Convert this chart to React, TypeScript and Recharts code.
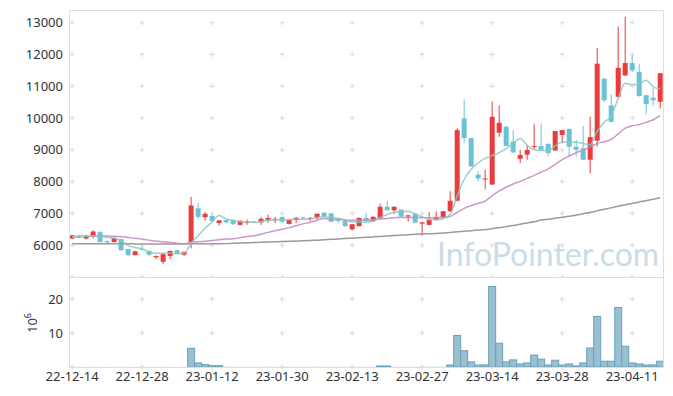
import React from 'react';
import { ComposedChart, Bar, Line, XAxis, YAxis, CartesianGrid } from 'recharts';

const dates = ['22-12-14','22-12-15','22-12-16','22-12-19','22-12-20','22-12-21','22-12-22','22-12-23','22-12-26','22-12-27','22-12-28','22-12-29','23-01-02','23-01-03','23-01-04','23-01-05','23-01-06','23-01-09','23-01-10','23-01-11','23-01-12','23-01-13','23-01-16','23-01-17','23-01-18','23-01-19','23-01-20','23-01-25','23-01-26','23-01-27','23-01-30','23-01-31','23-02-01','23-02-02','23-02-03','23-02-06','23-02-07','23-02-08','23-02-09','23-02-10','23-02-13','23-02-14','23-02-15','23-02-16','23-02-17','23-02-20','23-02-21','23-02-22','23-02-23','23-02-24','23-02-27','23-02-28','23-03-02','23-03-03','23-03-06','23-03-07','23-03-08','23-03-09','23-03-10','23-03-13','23-03-14','23-03-15','23-03-16','23-03-17','23-03-20','23-03-21','23-03-22','23-03-23','23-03-24','23-03-27','23-03-28','23-03-29','23-03-30','23-03-31','23-04-03','23-04-04','23-04-05','23-04-06','23-04-07','23-04-10','23-04-11','23-04-12','23-04-13','23-04-14','23-04-17'];

const opens = [6210,6250,6210,6260,6410,6130,6100,6190,5880,5690,
 5890,5820,5620,5480,5660,5840,5700,6100,7160,6880,
 6920,6700,6790,6790,6640,6700,6740,6720,6790,6820,
 6890,6670,6790,6880,6850,6850,7020,7000,6810,6760,
 6500,6600,6860,6760,6840,7210,7100,7120,6900,7000,
 6680,6640,6790,6880,7070,7400,9990,9370,8220,8080,
 7910,9540,9730,9260,8720,8850,9100,9120,9190,8980,
 9470,9660,9100,9050,8690,9290,11240,10400,10670,11340,
 11730,11450,10720,10640,10510];
const highs = [6330,6320,6330,6470,6440,6150,6230,6200,5890,5820,
 5960,5830,5680,5720,5830,5860,5800,7520,7330,7040,
 6950,6790,6820,6800,6780,6810,6760,6890,6960,6890,
 6900,6800,6890,6890,6890,7000,7040,7010,6820,6770,
 6660,6870,7020,6920,7310,7400,7220,7130,6950,7010,
 6730,7040,7070,7080,7700,9680,10590,9380,8320,8380,
 10530,10400,9740,9620,9000,9150,9810,9830,9200,9600,
 9630,9670,9310,9750,10040,12210,11250,10740,12880,13190,
 11970,11710,10730,10950,11420];
const lows = [6190,6230,6180,6210,6090,6010,6090,5830,5640,5680,
 5820,5660,5560,5400,5560,5740,5650,5900,6830,6780,
 6740,6620,6680,6640,6620,6640,6690,6640,6700,6700,
 6700,6650,6700,6800,6760,6800,6880,6740,6690,6580,
 6460,6590,6740,6740,6830,7090,6980,6890,6740,6700,
 6300,6620,6780,6860,7050,7380,9210,8470,8010,7750,
 7900,9410,9120,8910,8580,8690,9000,9000,8800,8970,
 9210,8790,8790,8680,8270,9100,10500,9870,10660,11330,
 11450,10680,10120,10400,10300];
const closes = [6310,6290,6300,6430,6100,6090,6220,5840,5690,5810,
 5870,5700,5660,5720,5820,5750,5790,7250,6890,6990,
 6760,6780,6720,6660,6770,6740,6710,6830,6860,6830,
 6740,6790,6860,6870,6860,6990,6900,6740,6770,6600,
 6660,6860,6760,6890,7210,7100,7210,6900,6940,6710,
 6720,6790,6880,7070,7400,9620,9370,8480,8100,8100,
 10040,9850,9120,8920,8840,9000,9120,9000,8900,9590,
 9620,9100,9000,8690,9400,11710,10560,9880,11580,11730,
 11500,10690,10440,10560,11410];

const ma5 = [6270,6280,6280,6300,6286,6242,6228,6136,5988,5930,
 5886,5782,5746,5752,5754,5730,5748,6066,6300,6534,
 6736,6934,6828,6782,6738,6734,6720,6742,6782,6794,
 6794,6810,6816,6818,6824,6874,6896,6872,6852,6800,
 6734,6726,6730,6754,6876,6964,7034,7062,7072,6972,
 6896,6812,6808,6834,6972,7552,8068,8388,8594,8734,
 8818,8914,9042,9206,9354,9146,9000,8976,8972,9122,
 9246,9242,9242,9200,9162,9580,9872,10048,10626,11092,
 11050,11076,11188,10984,10920];
const ma20 = [6270,6275,6280,6285,6290,6290,6280,6265,6245,6220,
 6190,6160,6130,6110,6085,6065,6040,6095,6110,6126,
 6149,6173,6194,6206,6239,6272,6296,6346,6404,6455,
 6499,6553,6613,6671,6723,6785,6840,6815,6809,6789,
 6784,6788,6790,6802,6824,6842,6867,6870,6874,6868,
 6867,6867,6868,6878,6905,7037,7160,7247,7314,7389,
 7558,7707,7825,7927,8008,8103,8199,8304,8402,8546,
 8691,8806,8912,8993,9093,9198,9257,9327,9501,9683,
 9756,9798,9864,9946,10074];
const ma60 = [6050,6050,6048,6047,6046,6045,6045,6044,6043,6042,
 6041,6040,6040,6040,6040,6041,6042,6043,6044,6045,
 6046,6048,6050,6058,6066,6074,6082,6090,6098,6106,
 6114,6122,6130,6140,6150,6160,6172,6185,6197,6210,
 6222,6235,6248,6262,6276,6290,6305,6318,6330,6342,
 6352,6362,6372,6385,6400,6420,6440,6458,6475,6492,
 6520,6550,6585,6620,6660,6700,6740,6790,6820,6850,
 6880,6910,6950,6990,7030,7080,7130,7175,7225,7270,
 7315,7360,7400,7445,7490];

const volumes = [0.06,0.05,0.04,0.07,0.05,0.04,0.05,0.06,0.05,0.04,
 0.05,0.04,0.05,0.06,0.05,0.04,0.05,5.5,1.2,0.7,
 0.4,0.4,0.12,0.09,0.08,0.1,0.07,0.09,0.1,0.08,
 0.07,0.09,0.08,0.07,0.09,0.1,0.08,0.07,0.06,0.08,
 0.07,0.09,0.08,0.1,0.3,0.3,0.08,0.07,0.06,0.07,
 0.09,0.1,0.12,0.15,0.6,9.3,4.8,1.5,0.6,0.6,
 23.7,7.0,1.5,2.1,0.9,1.2,3.5,2.3,0.6,2.0,
 0.6,0.9,0.3,1.2,5.6,14.9,1.7,1.7,17.5,6.1,
 1.2,0.9,0.6,0.6,1.7];

const priceTicks = [6000, 7000, 8000, 9000, 10000, 11000, 12000, 13000];
const volTicks = [10, 20];
const xTicks = [0, 10, 20, 30, 40, 50, 60, 70, 80];

const rows = dates.map((d, i) => ({
  i,
  date: d,
  open: opens[i],
  high: highs[i],
  low: lows[i],
  close: closes[i],
  ma5: ma5[i],
  ma20: ma20[i],
  ma60: ma60[i],
  vol: volumes[i],
}));

const X_MIN = -0.3;
const X_MAX = 84.4;
const RED = '#ea3b3d';
const BLUE = '#6bc2d6';
const FONT = '"Noto Sans", sans-serif';
const TICK_STYLE = { fontSize: 13, fill: '#333', fontFamily: FONT };

const Candle = (props: any) => {
  const { x, y, width, height, payload } = props;
  if (x == null || y == null || !payload) return null;
  const top = Math.min(y, y + height);
  const h = Math.abs(height);
  const { open, close, high, low } = payload;
  const span = high - low || 1;
  const toY = (v: number) => top + ((high - v) / span) * h;
  const up = close >= open;
  const color = up ? RED : BLUE;
  const cx = x + width / 2;
  const yo = toY(open);
  const yc = toY(close);
  const bTop = Math.min(yo, yc);
  const bH = Math.max(1, Math.abs(yo - yc));
  return (
    <g>
      <line x1={cx} x2={cx} y1={top} y2={top + h} stroke={color} strokeWidth={1} />
      <rect x={x} y={bTop} width={width} height={bH} fill={color} />
    </g>
  );
};

const VolBar = (props: any) => {
  const { x, y, width, height } = props;
  if (x == null || y == null) return null;
  const top = Math.min(y, y + height);
  const h = Math.abs(height);
  if (h < 0.8) {
    return <rect x={x} y={top} width={width} height={h} fill="#98c0d0" fillOpacity={0.4} />;
  }
  return <rect x={x} y={top} width={width} height={h} fill="#98c0d0" stroke="#6ea0b8" strokeWidth={1} />;
};

const crossRow = (p: any) => {
  const { x1, x2, y1, index } = p;
  const pxu = (x2 - x1) / (X_MAX - X_MIN);
  return (
    <g key={`cr-${index}`}>
      {xTicks.map((t) => {
        const cx = x1 + (t - X_MIN) * pxu;
        return (
          <path
            key={t}
            d={`M${cx - 2.5},${y1}H${cx + 2.5}M${cx},${y1 - 2.5}V${y1 + 2.5}`}
            stroke="#d8d8d8"
            strokeWidth={1}
            fill="none"
          />
        );
      })}
    </g>
  );
};

export default function App() {
  return (
    <div style={{ position: 'absolute', left: 0, top: 0, width: 673, height: 396, background: '#fff', overflow: 'hidden', fontFamily: FONT }}>
      <svg width={673} height={396} style={{ position: 'absolute', left: 0, top: 0 }}>
        <text x={437} y={266} fontFamily="Lato, sans-serif" fontSize={32} fill="#cadce7">InfoPointer.com</text>
      </svg>
      <div style={{ position: 'absolute', left: 0, top: 0 }}>
        <ComposedChart width={673} height={277} data={rows} margin={{ top: 10, right: 10, bottom: 0, left: 0 }}>
          <CartesianGrid vertical={false} horizontal={crossRow} horizontalValues={[5000, ...priceTicks]} syncWithTicks />
          <XAxis type="number" dataKey="i" domain={[X_MIN, X_MAX]} allowDataOverflow hide ticks={xTicks} />
          <YAxis
            type="number"
            domain={[5000, 13400]}
            allowDataOverflow
            ticks={priceTicks}
            interval={0}
            width={70}
            axisLine={false}
            tickLine={false}
            tickSize={0}
            tickMargin={7}
            tick={TICK_STYLE}
          />
          <Bar dataKey={(d: any) => [d.low, d.high]} barSize={5} shape={<Candle />} isAnimationActive={false} />
          <Line type="monotone" dataKey="ma60" stroke="#9a9a9a" strokeWidth={1.5} dot={false} isAnimationActive={false} />
          <Line type="monotone" dataKey="ma20" stroke="#c98bc6" strokeWidth={1.5} dot={false} strokeOpacity={0.9} isAnimationActive={false} />
          <Line type="monotone" dataKey="ma5" stroke="#86cbbb" strokeWidth={1.5} dot={false} strokeOpacity={0.85} isAnimationActive={false} />
        </ComposedChart>
      </div>
      <div style={{ position: 'absolute', left: 0, top: 277 }}>
        <ComposedChart width={673} height={119} data={rows} margin={{ top: 0, right: 10, bottom: 0, left: 0 }}>
          <CartesianGrid vertical={false} horizontal={crossRow} horizontalValues={[0, ...volTicks]} syncWithTicks />
          <XAxis
            type="number"
            dataKey="i"
            domain={[X_MIN, X_MAX]}
            allowDataOverflow
            ticks={xTicks}
            interval={0}
            tickFormatter={(v: number) => dates[v] ?? ''}
            height={29}
            axisLine={false}
            tickLine={false}
            tickSize={0}
            tickMargin={5}
            tick={TICK_STYLE}
          />
          <YAxis
            type="number"
            domain={[0, 26.5]}
            allowDataOverflow
            ticks={volTicks}
            interval={0}
            width={70}
            axisLine={false}
            tickLine={false}
            tickSize={0}
            tickMargin={7}
            tick={TICK_STYLE}
          />
          <Bar dataKey="vol" barSize={7} fill="#98c0d0" shape={<VolBar />} isAnimationActive={false} />
        </ComposedChart>
      </div>
      <svg width={673} height={396} style={{ position: 'absolute', left: 0, top: 0, pointerEvents: 'none' }}>
        <path d="M69.5,10.5H663.5V367.5H69.5Z M69.5,277.5H663.5" stroke="#dedede" strokeWidth={1} fill="none" />
        <text transform="translate(37,333) rotate(-90)" fontFamily={FONT} fontSize={13} fill="#333">
          10<tspan dy={-6} fontSize={9}>6</tspan>
        </text>
      </svg>
    </div>
  );
}
